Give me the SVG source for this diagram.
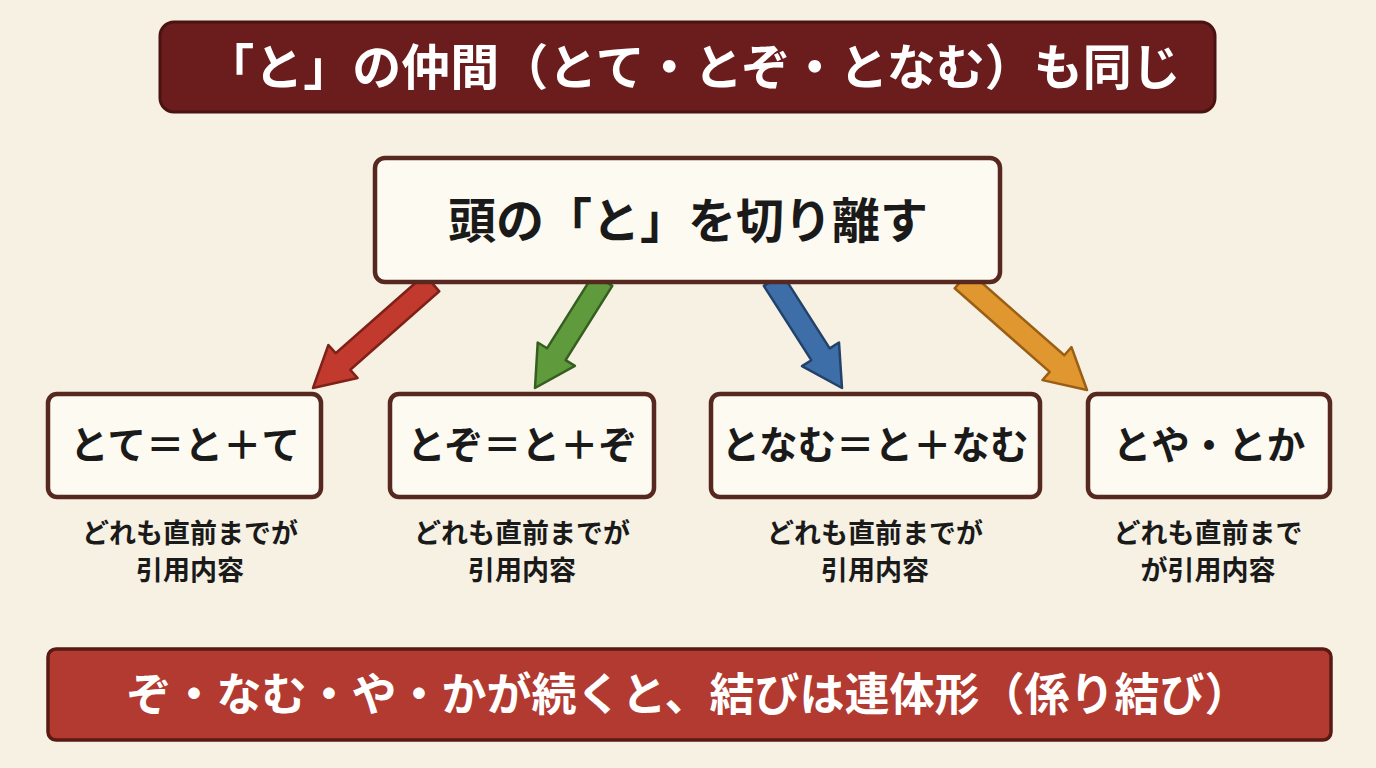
<svg xmlns="http://www.w3.org/2000/svg" width="1376" height="768" viewBox="0 0 1376 768">
<defs>
<style>
.jp{font-family:"Noto Sans CJK JP","Noto Sans CJK SC",sans-serif;font-weight:700;text-anchor:middle}
.box{fill:#fdfaf1;stroke:#572820;stroke-width:4.5}
.lbl{font-size:38.5px;fill:#1a1a1a}
.sub{font-size:27px;fill:#1a1a1a}
.arr{stroke-width:2.5;stroke-linejoin:round}
</style>
</defs>
<rect x="0" y="0" width="1376" height="768" fill="#f6f1e3"/>
<g id="title">
<rect x="160" y="22" width="1055" height="90" rx="14" fill="#6a1d1c" stroke="#4a1312" stroke-width="3"/>
<text class="jp" x="693" y="85" font-size="49" fill="#ffffff">「と」の仲間（とて・とぞ・となむ）も同じ</text>
</g>
<g id="connectors">
<polygon class="arr" fill="#c23a2e" stroke="#7e2119" points="424.7,274.7 335.7,353.2 328.4,345 313,388 357.6,378 350.3,369.8 439.3,291.3"/>
<polygon class="arr" fill="#5f9a3d" stroke="#355e20" points="593.7,274.1 547,348.3 537.7,342.5 535,388 574.9,365.9 565.6,360.1 612.3,285.9"/>
<polygon class="arr" fill="#3e6ea8" stroke="#23426a" points="782.3,274.1 829.7,348.4 839,342.5 842,388 802,366.1 811.3,360.2 763.8,285.9"/>
<polygon class="arr" fill="#e0972f" stroke="#9a5f15" points="969.3,271.7 1064.3,355.3 1071.5,347.1 1087,390 1042.5,380.1 1049.7,371.9 954.7,288.3"/>
</g>
<g id="root">
<rect class="box" x="375" y="158" width="625" height="124" rx="10"/>
<text class="jp" x="688" y="238" font-size="48" fill="#1a1a1a">頭の「と」を切り離す</text>
</g>
<g id="tote">
<rect class="box" x="48" y="394" width="273" height="103" rx="9"/>
<text class="jp lbl" x="185" y="459">とて＝と＋て</text>
<text class="jp sub" x="190" y="543">どれも直前までが</text>
<text class="jp sub" x="190" y="580">引用内容</text>
</g>
<g id="tozo">
<rect class="box" x="390" y="394" width="264" height="103" rx="9"/>
<text class="jp lbl" x="522" y="459">とぞ＝と＋ぞ</text>
<text class="jp sub" x="522" y="543">どれも直前までが</text>
<text class="jp sub" x="522" y="580">引用内容</text>
</g>
<g id="tonamu">
<rect class="box" x="711" y="394" width="329" height="103" rx="9"/>
<text class="jp lbl" x="875" y="459">となむ＝と＋なむ</text>
<text class="jp sub" x="875" y="543">どれも直前までが</text>
<text class="jp sub" x="875" y="580">引用内容</text>
</g>
<g id="toya">
<rect class="box" x="1088" y="394" width="242" height="103" rx="9"/>
<text class="jp lbl" x="1209" y="459">とや・とか</text>
<text class="jp sub" x="1208" y="543">どれも直前まで</text>
<text class="jp sub" x="1208" y="580">が引用内容</text>
</g>
<g id="footer">
<rect x="48" y="649" width="1283" height="91" rx="8" fill="#b23a30" stroke="#5a1a14" stroke-width="3.5"/>
<text class="jp" x="688" y="711" font-size="45" fill="#ffffff">ぞ・なむ・や・かが続くと、結びは連体形（係り結び）</text>
</g>
</svg>
